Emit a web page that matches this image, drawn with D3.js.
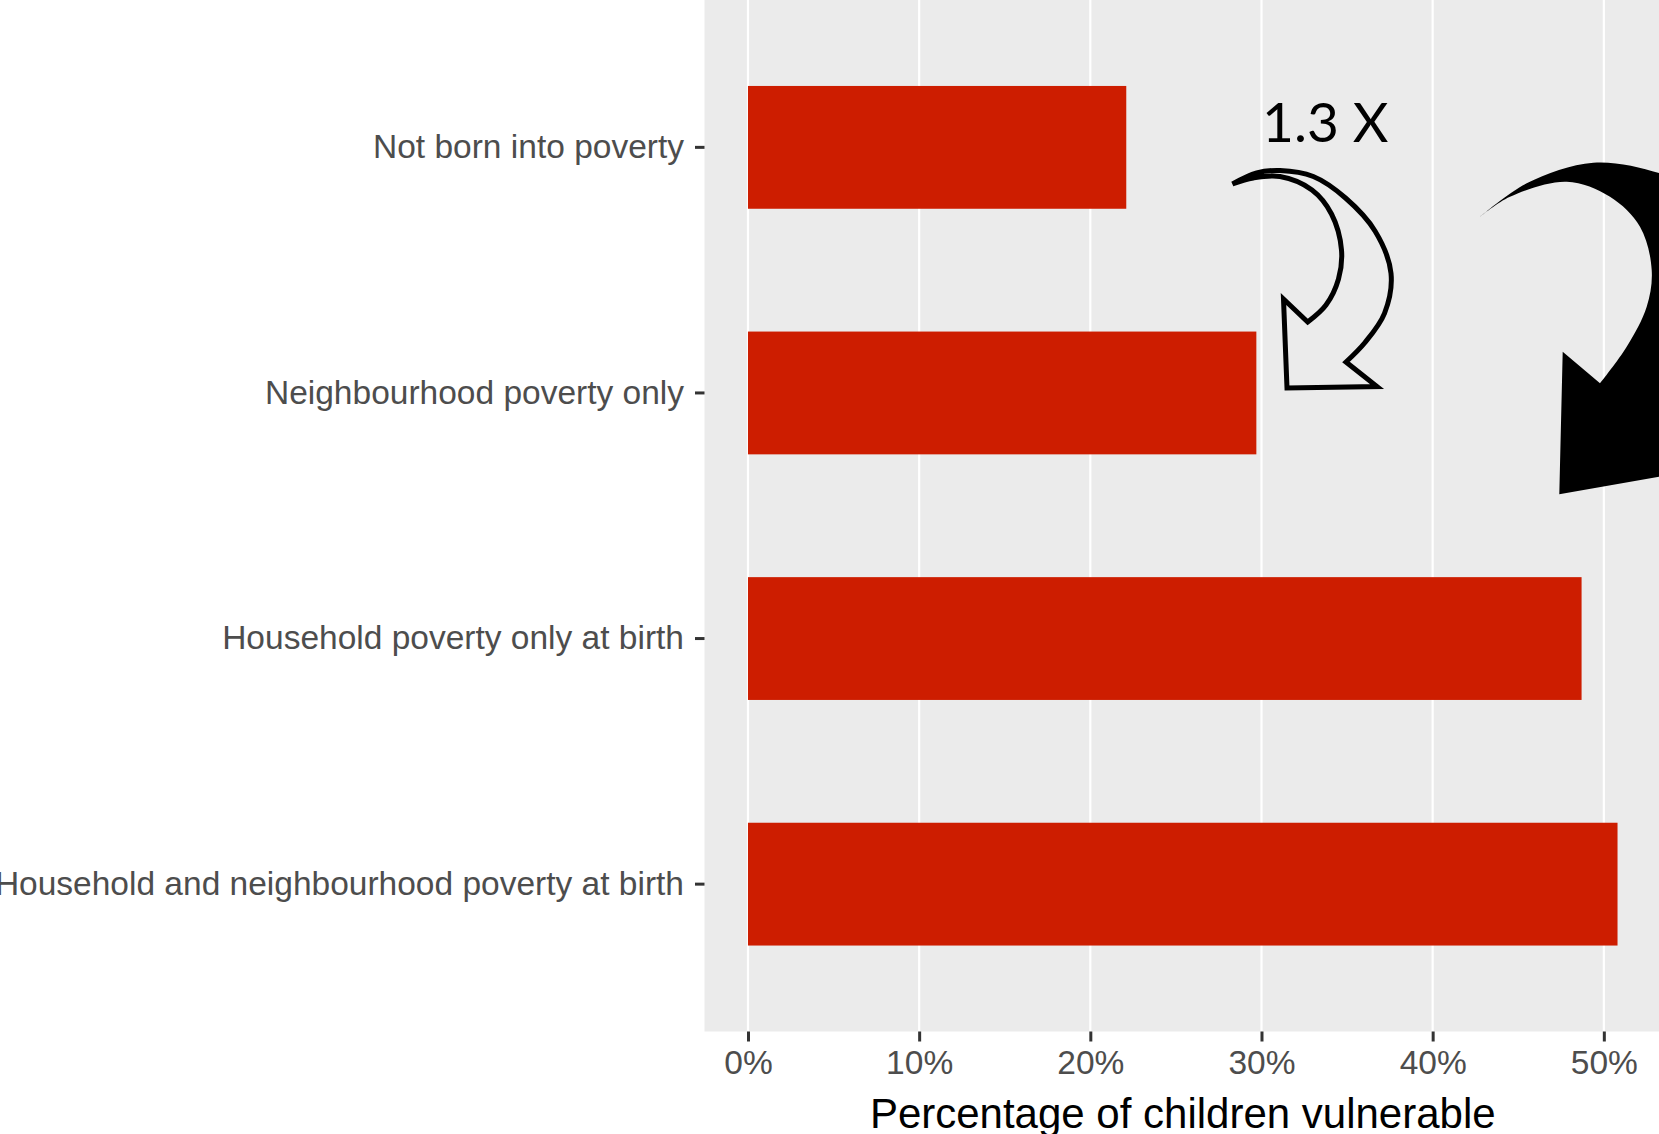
<!DOCTYPE html>
<html>
<head>
<meta charset="utf-8">
<script src="https://cdn.jsdelivr.net/npm/d3@7"></script>
<style>
  html, body { margin: 0; padding: 0; background: #ffffff; overflow: hidden; }
  svg { display: block; }
</style>
</head>
<body>
<svg id="chart" width="1659" height="1134"></svg>
<script>
// Share of children vulnerable, by poverty exposure at birth
const categories = [
  "Not born into poverty",
  "Neighbourhood poverty only",
  "Household poverty only at birth",
  "Household and neighbourhood poverty at birth"
];
const values = [22.1, 29.7, 48.7, 50.8];
const xTicks = [0, 10, 20, 30, 40, 50];
const xTickLabels = ["0%", "10%", "20%", "30%", "40%", "50%"];
const xTitle = "Percentage of children vulnerable";
const ratioLabel = "1.3 X";

const svg = d3.select("#chart");

// plotting panel
const panel = { left: 704.5, right: 1661, top: 0, bottom: 1031.5 };

const xMax = d3.max(values);
const pad = 0.05 * xMax;
const x = d3.scaleLinear()
  .domain([-pad, xMax + pad])
  .range([panel.left, panel.right]);

const y = d3.scaleBand()
  .domain(categories)
  .range([panel.top, panel.bottom])
  .paddingInner(0.5)
  .paddingOuter(0.35);

// panel background
svg.append("rect")
  .attr("x", panel.left).attr("y", panel.top)
  .attr("width", panel.right - panel.left)
  .attr("height", panel.bottom - panel.top)
  .attr("fill", "#ebebeb");

// vertical grid
svg.append("g")
  .selectAll("line")
  .data(xTicks)
  .join("line")
  .attr("x1", d => x(d)).attr("x2", d => x(d))
  .attr("y1", panel.top).attr("y2", panel.bottom)
  .attr("stroke", "#ffffff")
  .attr("stroke-width", 2.2);

// bars
svg.append("g")
  .selectAll("rect")
  .data(categories.map((c, i) => ({ c, v: values[i] })))
  .join("rect")
  .attr("x", x(0))
  .attr("y", d => y(d.c))
  .attr("width", d => x(d.v) - x(0))
  .attr("height", y.bandwidth())
  .attr("fill", "#cd1d00");

// y axis (category labels)
const yAxis = d3.axisLeft(y).tickSize(9.5).tickPadding(11);
const gy = svg.append("g")
  .attr("transform", `translate(${panel.left},0)`)
  .call(yAxis);
gy.select(".domain").remove();
gy.selectAll(".tick line").attr("stroke", "#333333").attr("stroke-width", 3);
gy.selectAll(".tick text")
  .attr("fill", "#4d4d4d")
  .style("font-family", "'Liberation Sans', Arial, sans-serif")
  .style("font-size", "33.5px");

// x axis
const xAxis = d3.axisBottom(x)
  .tickValues(xTicks)
  .tickFormat((d, i) => xTickLabels[i])
  .tickSize(10)
  .tickPadding(9);
const gx = svg.append("g")
  .attr("transform", `translate(0,${panel.bottom})`)
  .call(xAxis);
gx.select(".domain").remove();
gx.selectAll(".tick line").attr("stroke", "#333333").attr("stroke-width", 3);
gx.selectAll(".tick text")
  .attr("fill", "#4d4d4d")
  .style("font-family", "'Liberation Sans', Arial, sans-serif")
  .style("font-size", "33.5px");

// x axis title
svg.append("text")
  .attr("x", (panel.left + panel.right) / 2)
  .attr("y", 1128)
  .attr("text-anchor", "middle")
  .attr("fill", "#000000")
  .style("font-family", "'Liberation Sans', Arial, sans-serif")
  .style("font-size", "42px")
  .text(xTitle);

// curved call-out arrows
const curve = d3.line().curve(d3.curveCatmullRom.alpha(0.5));
function arrowPath(outer, head, inner) {
  const o = curve(outer);
  const h = head.map(p => `L${p[0]},${p[1]}`).join("");
  const i = curve(inner).replace(/^M/, "L");
  return o + h + i + "Z";
}

// outlined arrow: first bar -> second bar
const outlineOuter = [
  [1232.5, 184], [1256.7, 173], [1280, 170.5], [1313.3, 176.5], [1345.5, 198],
  [1375, 231], [1391, 273.3], [1384.5, 313.3], [1365, 342.5], [1346, 362]
];
const outlineHead = [[1377, 386.5], [1287, 388], [1283.5, 299], [1307.7, 322]];
const outlineInner = [
  [1307.7, 322], [1326, 305], [1338.5, 279], [1341.5, 250], [1331.5, 214],
  [1312, 190], [1280, 176.5], [1253.3, 178], [1232.5, 184]
];
svg.append("path")
  .attr("d", arrowPath(outlineOuter, outlineHead, outlineInner))
  .attr("fill", "none")
  .attr("stroke", "#000000")
  .attr("stroke-width", 5)
  .attr("stroke-linejoin", "miter")
  .attr("stroke-miterlimit", 10);

// solid arrow: first bar -> lower bars
const solidOuter = [
  [1480, 216.7], [1526.7, 183.3], [1593.3, 162.7], [1659, 173], [1700, 192]
];
const solidHead = [[1700, 469.5], [1559.3, 494.3], [1562.7, 351.7], [1600, 383.3]];
const solidInner = [
  [1600, 383.3], [1626.7, 346.7], [1646.7, 306.7], [1651.7, 270], [1640, 226.7],
  [1610, 196.7], [1566.7, 181.7], [1510, 196.7], [1480, 216.7]
];
svg.append("path")
  .attr("d", arrowPath(solidOuter, solidHead, solidInner))
  .attr("fill", "#000000");

// ratio label
svg.append("text")
  .attr("x", 1262)
  .attr("y", 142)
  .attr("fill", "#000000")
  .style("font-family", "Lato, 'Open Sans', sans-serif")
  .style("font-size", "55px")
  .text(ratioLabel);
</script>
</body>
</html>
